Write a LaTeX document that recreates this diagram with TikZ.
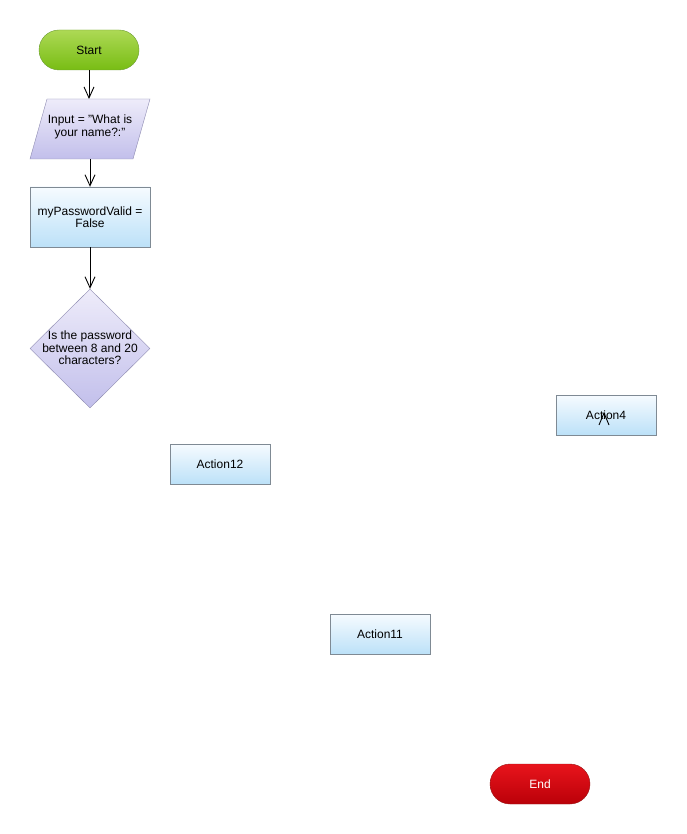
\documentclass[tikz,border=0pt]{standalone}
\usepackage{fontspec}
\setmainfont{Liberation Sans}
\usetikzlibrary{arrows.meta,shapes.geometric,calc}
\definecolor{gtop}{HTML}{ADD955}
\definecolor{gbot}{HTML}{78BD14}
\definecolor{gline}{HTML}{6E9E34}
\definecolor{ptop}{HTML}{EEECFA}
\definecolor{pbot}{HTML}{C2BFEB}
\definecolor{pline}{HTML}{8C89B0}
\definecolor{btop}{HTML}{F6FBFF}
\definecolor{bbot}{HTML}{BCE1F8}
\definecolor{bline}{HTML}{7F8A94}
\definecolor{rtop}{HTML}{E8141C}
\definecolor{rbot}{HTML}{BA0008}
\definecolor{rline}{HTML}{9A1A1A}
\tikzset{
  txt/.style={font=\fontsize{12}{12.5}\selectfont, align=center, text=black},
  pill/.style={rounded corners=20pt, minimum width=100pt, minimum height=40pt, inner sep=0pt},
  startbox/.style={pill, draw=gline, top color=gtop, bottom color=gbot, txt},
  endbox/.style={pill, draw=rline, top color=rtop, bottom color=rbot, txt, text=white},
  actbox/.style={draw=bline, top color=btop, bottom color=bbot, txt, minimum width=100pt, minimum height=40pt, inner sep=0pt},
  procbox/.style={actbox, minimum width=120pt, minimum height=60pt},
  decbox/.style={diamond, draw=pline, top color=ptop, bottom color=pbot, minimum width=120pt, minimum height=119pt, inner sep=0pt},
  iobox/.style={draw=pline, top color=ptop, bottom color=pbot},
  conn/.style={draw=black, line width=0.9pt, -{Straight Barb[length=11pt,width=10pt,line width=0.9pt]}},
}
\begin{document}
\begin{tikzpicture}[x=1pt,y=-1pt]
\useasboundingbox (0,0) rectangle (686,834);
\fill[white] (0,0) rectangle (686,834);
% Start
\node[startbox] (start) at (89,50) {Start};
% Input parallelogram
\path[iobox] (30,159) -- (47,99) -- (150,99) -- (133,159) -- cycle;
\node[txt] (input) at (90,127) {Input = "What is\\your name?:"};
\coordinate (inTop) at (89,99);
\coordinate (inBot) at (90,159);
% process
\node[procbox] (valid) at (90,217) {myPasswordValid =\\False};
% decision
\node[decbox] (dec) at (90,348.5) {};
\node[txt] (dectext) at (90,348) {Is the password\\between 8 and 20\\characters?};
% actions
\node[actbox] (a4) at (606,415) {Action4};
\node[actbox] (a12) at (220,464) {Action12};
\node[actbox] (a11) at (380,634) {Action11};
% End
\node[endbox] (end) at (540,784) {End};
% connectors
\draw[conn] (start.south) -- (inTop);
\draw[conn] (inBot) -- (valid.north);
\draw[conn] (valid.south) -- (dec.north);
% stray arrowhead in Action4
\coordinate (tipA) at (604,413);
\draw[line width=0.9pt] ($(tipA)+(-5,12)$) -- (tipA) -- ($(tipA)+(5,12)$);
\end{tikzpicture}
\end{document}
